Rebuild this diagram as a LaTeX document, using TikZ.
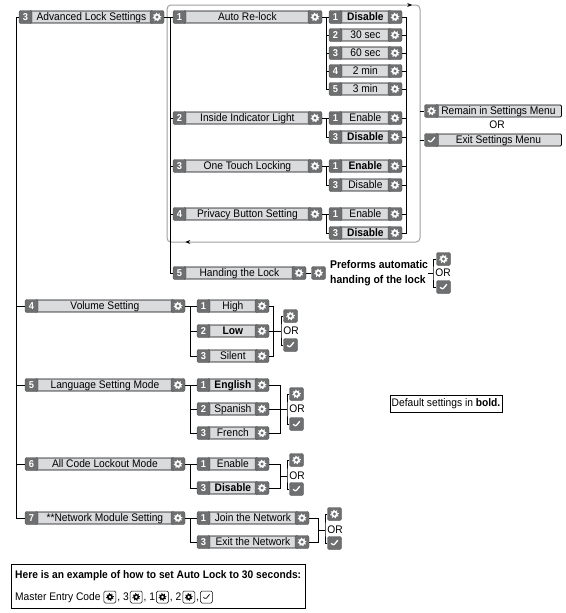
\documentclass[tikz,border=0pt]{standalone}
\usepackage{fontspec}
\setmainfont{Liberation Sans}[FakeStretch=0.93]
\usepackage{tikz}
\usetikzlibrary{arrows.meta,positioning,calc,decorations.markings}
\definecolor{keygray}{HTML}{6E6F71}
\definecolor{barfill}{HTML}{DADBDD}
\definecolor{loopgray}{HTML}{A0A0A0}

\begin{document}
\begin{tikzpicture}[x=1pt, y=-1pt,
    keybox/.style={fill=keygray, draw=keygray!70!black, line width=0.4pt, rounded corners=2pt, minimum width=13pt, minimum height=13pt, inner sep=0pt, text=white, font=\fontsize{10}{10}\selectfont\bfseries},
    labelbar/.style={draw=black, fill=barfill, line width=0.8pt, rounded corners=1pt, minimum height=12pt, inner sep=0pt, text height=8pt, text depth=2pt, font=\fontsize{11}{12}\selectfont},
    gearbox/.style={keybox, minimum width=14pt, path picture={
        \fill[white] (path picture bounding box.center) circle (3.4pt);
        \draw[white, line width=1.2pt, dash pattern=on 1pt off 2.06pt] (path picture bounding box.center) circle (3.9pt);
        \fill[keygray] (path picture bounding box.center) circle (1.6pt);}},
    tickbox/.style={keybox, minimum width=14pt, path picture={
        \draw[white, line width=1.3pt] ([shift={(-3.3,0.2)}]path picture bounding box.center) -- ([shift={(-1,2.6)}]path picture bounding box.center) -- ([shift={(3.3,-2.8)}]path picture bounding box.center);}},
    ogear/.style={draw=black, line width=0.5pt, rounded corners=1.5pt, minimum width=12pt, minimum height=12pt, inner sep=0pt, path picture={
        \fill[black] (path picture bounding box.center) circle (3pt);
        \draw[black, line width=1pt, dash pattern=on 0.9pt off 1.85pt] (path picture bounding box.center) circle (3.5pt);
        \fill[white] (path picture bounding box.center) circle (1.4pt);}},
    otick/.style={draw=black, line width=0.5pt, rounded corners=1.5pt, minimum width=12pt, minimum height=12pt, inner sep=0pt, path picture={
        \draw[black, line width=0.7pt] ([shift={(-3,0.2)}]path picture bounding box.center) -- ([shift={(-1,2.4)}]path picture bounding box.center) -- ([shift={(3,-2.6)}]path picture bounding box.center);}},
    wire/.style={line width=0.9pt},
    menuloop/.style={draw=loopgray, line width=1pt, rounded corners=4pt},
    txt/.style={inner sep=0pt, font=\fontsize{11}{12}\selectfont},
    btxt/.style={inner sep=0pt, font=\fontsize{11}{14}\selectfont\bfseries},
    rowtxt/.style={txt, text height=8pt, text depth=2pt},
    pics/entry/.style n args={3}{code={
        \node[labelbar, minimum width=#3+6, anchor=west] (-b) at (10,0) {#2};
        \node[keybox] (-n) at (6.5,0) {#1};
        \node[gearbox] (-g) at (#3+20,0) {};
    }}
]
\useasboundingbox (0,0) rectangle (565,613);

\draw[menuloop, postaction={decorate}, decoration={markings,
    mark=at position 355pt with {\arrow{Stealth[length=5pt, width=4pt, color=black]}},
    mark=at position 852pt with {\arrow{Stealth[length=5pt, width=4pt, color=black]}}}]
    (420,120) -- (420,242) -- (167,242) -- (167,5) -- (420,5) -- (420,120);

\pic (adv) at (19,17) {entry={3}{Advanced Lock Settings}{118}};
\pic (vol) at (25,306) {entry={4}{Volume Setting}{133}};
\pic (lang) at (25,385) {entry={5}{Language Setting Mode}{133}};
\pic (lock) at (25,464) {entry={6}{All Code Lockout Mode}{133}};
\pic (net) at (25,518) {entry={7}{**Network Module Setting}{133}};

\pic (relock) at (173,17) {entry={1}{Auto Re-lock}{122}};
\pic (indic) at (173,118) {entry={2}{Inside Indicator Light}{122}};
\pic (touch) at (173,166) {entry={3}{One Touch Locking}{122}};
\pic (priv) at (173,214) {entry={4}{Privacy Button Setting}{122}};
\pic (hand) at (173,273) {entry={5}{Handing the Lock}{106}};

\pic (r1) at (329,17) {entry={1}{\textbf{Disable}}{46}};
\pic (r2) at (329,35) {entry={2}{30 sec}{46}};
\pic (r3) at (329,53) {entry={3}{60 sec}{46}};
\pic (r4) at (329,71) {entry={4}{2 min}{46}};
\pic (r5) at (329,89) {entry={5}{3 min}{46}};
\pic (i1) at (329,118) {entry={1}{Enable}{46}};
\pic (i3) at (329,137) {entry={3}{\textbf{Disable}}{46}};
\pic (t1) at (329,166) {entry={1}{\textbf{Enable}}{46}};
\pic (t3) at (329,185) {entry={3}{Disable}{46}};
\pic (p1) at (329,214) {entry={1}{Enable}{46}};
\pic (p3) at (329,233) {entry={3}{\textbf{Disable}}{46}};

\pic (v1) at (197,306) {entry={1}{High}{45}};
\pic (v2) at (197,331) {entry={2}{\textbf{Low}}{45}};
\pic (v3) at (197,356) {entry={3}{Silent}{45}};
\pic (l1) at (197,385) {entry={1}{\textbf{English}}{45}};
\pic (l2) at (197,409) {entry={2}{Spanish}{45}};
\pic (l3) at (197,433) {entry={3}{French}{45}};
\pic (e1) at (197,464) {entry={1}{Enable}{45}};
\pic (e3) at (197,488) {entry={3}{\textbf{Disable}}{45}};
\pic (n1) at (197,518) {entry={1}{Join the Network}{85}};
\pic (n3) at (197,542) {entry={3}{Exit the Network}{85}};

\coordinate (x1) at (16,0);
\coordinate (x2) at (170,0);
\coordinate (x3) at (190,0);
\coordinate (x4) at (326,0);
\coordinate (x5) at (406,0);
\coordinate (x6) at (420,0);

\draw[wire] (x1 |- adv-n) |- (net-n);
\foreach \m in {adv,vol,lang,lock} \draw[wire] (x1 |- \m-n) -- (\m-n);

\draw[wire] (adv-g) -- (relock-n);
\draw[wire] (x2 |- relock-n) |- (hand-n);
\foreach \m in {indic,touch,priv} \draw[wire] (x2 |- \m-n) -- (\m-n);

\draw[wire] (relock-g) -- (r1-n);
\draw[wire] (x4 |- r1-n) |- (r5-n);
\foreach \o in {r2,r3,r4} \draw[wire] (x4 |- \o-n) -- (\o-n);
\draw[wire] (indic-g) -- (i1-n);
\draw[wire] (x4 |- i1-n) |- (i3-n);
\draw[wire] (touch-g) -- (t1-n);
\draw[wire] (x4 |- t1-n) |- (t3-n);
\draw[wire] (priv-g) -- (p1-n);
\draw[wire] (x4 |- p1-n) |- (p3-n);

\draw[wire] (r1-g) -| (x5 |- p3-g) -- (p3-g);
\foreach \o in {r2,r3,r4,r5,i1,i3,t1,t3,p1} \draw[wire] (\o-g) -- (\o-g -| x5);

\node[labelbar, minimum width=126, anchor=west] (stay) at (435,111) {Remain in Settings Menu};
\node[gearbox] (stay-g) at (431.5,111) {};
\node[txt] (stay-or) at (497,125) {OR};
\node[labelbar, minimum width=126, anchor=west] (quit) at (435,140) {Exit Settings Menu};
\node[tickbox] (quit-c) at (431.5,140) {};
\draw[wire] (x6 |- stay-g) -- (stay-g);
\draw[wire] (x6 |- quit-c) -- (quit-c);

\node[gearbox] (hand-x) at (318.5,273) {};
\draw[wire] (hand-g) -- (hand-x);
\node[btxt, anchor=west, align=left, font=\fontsize{11.2}{15}\selectfont\bfseries] (hand-t) at (330,273) {Preforms automatic\\handing of the lock};
\coordinate (hq) at (433,273);
\draw[wire] (hand-t) -- (hq);
\node[gearbox] (hq-g) at (443.5,259) {};
\node[txt] (hq-or) at (443,273) {OR};
\node[tickbox] (hq-c) at (443.5,287) {};
\draw[wire] (hq-g) -| (hq) |- (hq-c);

\draw[wire] (vol-g) -- (v1-n);
\draw[wire] (x3 |- v1-n) |- (v3-n);
\draw[wire] (x3 |- v2-n) -- (v2-n);
\draw[wire] (v1-g) -| (273,0 |- v3-g) -- (v3-g);
\coordinate (vq) at (281,331);
\draw[wire] (v2-g) -- (vq);
\node[gearbox] (vq-g) at (290.5,316) {};
\node[txt] (vq-or) at (291,331) {OR};
\node[tickbox] (vq-c) at (290.5,345) {};
\draw[wire] (vq-g) -| (vq) |- (vq-c);

\draw[wire] (lang-g) -- (l1-n);
\draw[wire] (x3 |- l1-n) |- (l3-n);
\draw[wire] (x3 |- l2-n) -- (l2-n);
\draw[wire] (l1-g) -| (280,0 |- l3-g) -- (l3-g);
\coordinate (lq) at (287,409);
\draw[wire] (l2-g) -- (lq);
\node[gearbox] (lq-g) at (296.5,394) {};
\node[txt] (lq-or) at (297,409) {OR};
\node[tickbox] (lq-c) at (296.5,424) {};
\draw[wire] (lq-g) -| (lq) |- (lq-c);

\draw[wire] (lock-g) -- (e1-n);
\draw[wire] (x3 |- e1-n) |- (e3-n);
\draw[wire] (e1-g) -| (280,0 |- e3-g) -- (e3-g);
\coordinate (eq) at (287,476);
\draw[wire] (280,476) -- (eq);
\node[gearbox] (eq-g) at (296.5,460) {};
\node[txt] (eq-or) at (297,476) {OR};
\node[tickbox] (eq-c) at (296.5,489) {};
\draw[wire] (eq-g) -| (eq) |- (eq-c);

\draw[wire] (net-g) -- (n1-n);
\draw[wire] (x3 |- n1-n) |- (n3-n);
\draw[wire] (n1-g) -| (318,0 |- n3-g) -- (n3-g);
\coordinate (nq) at (325,530);
\draw[wire] (318,530) -- (nq);
\node[gearbox] (nq-g) at (334.5,514) {};
\node[txt] (nq-or) at (335,530) {OR};
\node[tickbox] (nq-c) at (334.5,543) {};
\draw[wire] (nq-g) -| (nq) |- (nq-c);

\node[draw, line width=0.7pt, minimum width=112, minimum height=17, inner sep=0pt, font=\fontsize{11}{12}\selectfont] (dflt) at (446,404) {Default settings in \textbf{bold.}};

\node[draw, line width=0.8pt, minimum width=294, minimum height=44, anchor=north west, inner sep=0pt] (ex) at (11,564) {};
\node[btxt, anchor=west] (ex-t) at (15,576) {Here is an example of how to set Auto Lock to 30 seconds:};
\node[rowtxt, anchor=west] (ex-a) at (15,597) {Master Entry Code};
\node[ogear, right=3pt of ex-a] (ex-g1) {};
\node[rowtxt, right=1pt of ex-g1] (ex-b) {, 3};
\node[ogear, right=1pt of ex-b] (ex-g2) {};
\node[rowtxt, right=1pt of ex-g2] (ex-c) {, 1};
\node[ogear, right=1pt of ex-c] (ex-g3) {};
\node[rowtxt, right=1pt of ex-g3] (ex-d) {, 2};
\node[ogear, right=1pt of ex-d] (ex-g4) {};
\node[rowtxt, right=1pt of ex-g4] (ex-e) {,};
\node[otick, right=1pt of ex-e] (ex-k) {};
\end{tikzpicture}
\end{document}
